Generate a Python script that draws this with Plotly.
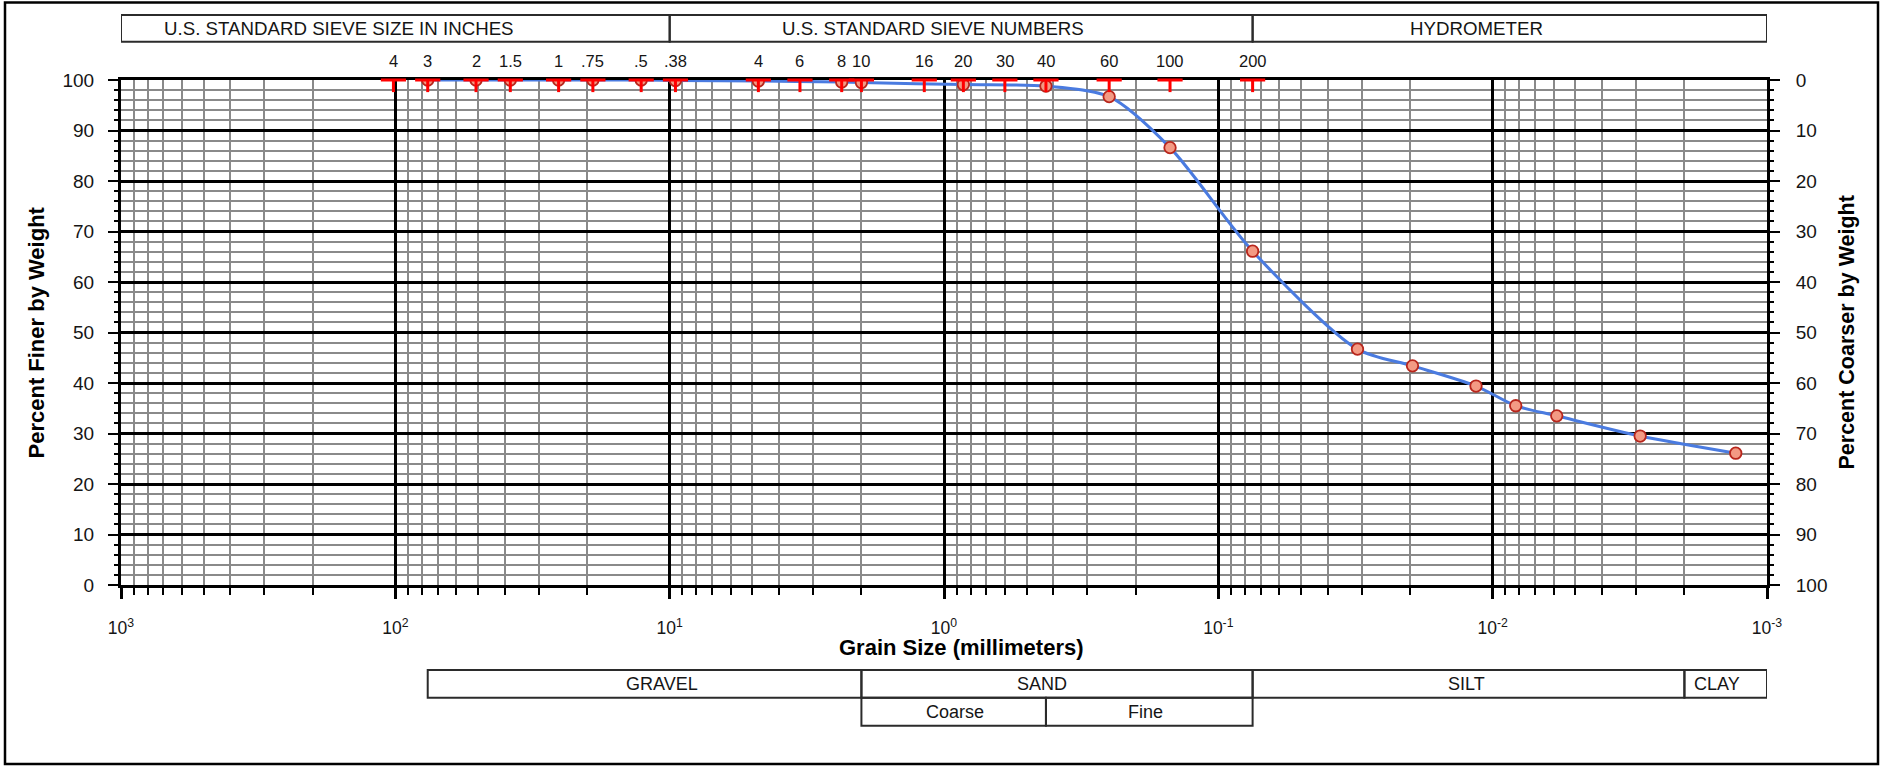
import math
import plotly.graph_objects as go

# ---------------------------------------------------------------- data
# Standard sieve openings (mm) with the labels printed above the chart
sieve_labels = ["4", "3", "2", "1.5", "1", ".75", ".5", ".38",
                "4", "6", "8", "10", "16", "20", "30", "40", "60", "100", "200"]
sieve_sizes_mm = [101.6, 76.2, 50.8, 38.1, 25.4, 19.05, 12.7, 9.525,
                  4.75, 3.35, 2.36, 2.00, 1.18, 0.85, 0.60, 0.425, 0.25, 0.15, 0.075]

# Gradation results: sieve analysis followed by hydrometer readings
grain_size_mm = [76.2, 50.8, 38.1, 25.4, 19.05, 12.7, 9.525, 4.75, 2.36, 2.00,
                 0.85, 0.425, 0.25, 0.15, 0.075,
                 0.0311, 0.0196, 0.0115, 0.00824, 0.00584, 0.00290, 0.00130]
percent_finer = [100, 100, 100, 100, 100, 100, 99.9, 99.8, 99.6, 99.5,
                 99.1, 98.8, 96.7, 86.6, 66.1,
                 46.7, 43.4, 39.4, 35.5, 33.5, 29.5, 26.1]

# Axis ticks
x_major_vals = [1000, 100, 10, 1, 0.1, 0.01, 0.001]
x_major_text = ["10<sup>3</sup>", "10<sup>2</sup>", "10<sup>1</sup>", "10<sup>0</sup>",
                "10<sup>-1</sup>", "10<sup>-2</sup>", "10<sup>-3</sup>"]
x_minor_vals = [m * 10.0 ** e for e in range(-3, 3) for m in range(2, 10)]
y_tick_vals = list(range(0, 101, 10))

# Classification bands: (label, coarse limit mm, fine limit mm)
header_cells = [("U.S. STANDARD SIEVE SIZE IN INCHES", 1000, 10),
                ("U.S. STANDARD SIEVE NUMBERS", 10, 0.075),
                ("HYDROMETER", 0.075, 0.001)]
soil_cells = [("GRAVEL", 76.2, 2.0), ("SAND", 2.0, 0.075),
              ("SILT", 0.075, 0.002), ("CLAY", 0.002, 0.001)]
sand_cells = [("Coarse", 2.0, 0.425), ("Fine", 0.425, 0.075)]

# ---------------------------------------------------------------- layout geometry
W, H = 1883, 766
ML, MR, MT, MB = 121, 116, 80, 181
PW, PH = W - ML - MR, H - MT - MB


def px_x(px):
    return (px - ML) / PW


def px_y(py):
    return (H - MB - py) / PH


FONT = "Liberation Sans, Arial, sans-serif"
TXT = "#151515"
BOX = "#2b2b2b"

# label anchors (mm) inside the band cells
header_text_mm = [160.0, 1.10, 0.0115]
soil_text_mm = [10.7, 0.44, 0.01245, 0.00152]
sand_text_mm = [0.915, 0.185]

fig = go.Figure()

# grading curve with test points
fig.add_trace(go.Scatter(
    x=grain_size_mm, y=percent_finer, mode="lines+markers",
    line=dict(color="#4a7be0", width=3, shape="spline", smoothing=0.8),
    marker=dict(symbol="circle", size=11.5, color="#f39a84",
                line=dict(color="#b8261c", width=1.8)),
    cliponaxis=True, hoverinfo="x+y"))

# sieve marks along the top edge
fig.add_trace(go.Scatter(
    x=sieve_sizes_mm, y=[100] * len(sieve_sizes_mm), mode="markers",
    marker=dict(symbol="line-ew", size=18, color="red",
                line=dict(color="red", width=3)),
    error_y=dict(type="data", symmetric=False, array=[0] * len(sieve_sizes_mm),
                 arrayminus=[2.4] * len(sieve_sizes_mm), width=0,
                 thickness=3, color="red"),
    cliponaxis=False, hoverinfo="skip"))

# same curve expressed as percent coarser, carried by the right axis
fig.add_trace(go.Scatter(
    x=grain_size_mm, y=[100 - v for v in percent_finer], yaxis="y2",
    mode="markers", marker=dict(opacity=0), hoverinfo="skip"))

shapes = []
annotations = []

# sieve labels above the plot
for lab, size in zip(sieve_labels, sieve_sizes_mm):
    annotations.append(dict(x=math.log10(size), y=px_y(61), xref="x", yref="paper",
                            text=lab, showarrow=False, xanchor="center", yanchor="middle",
                            font=dict(family=FONT, size=16.5, color=TXT)))


def band_row(cells, text_mm, top_px, bot_px, fsize):
    for (lab, a, b), t in zip(cells, text_mm):
        shapes.append(dict(type="rect", xref="x", yref="paper", x0=a, x1=b,
                           y0=px_y(bot_px), y1=px_y(top_px),
                           line=dict(color=BOX, width=2), fillcolor="rgba(0,0,0,0)"))
        annotations.append(dict(x=math.log10(t), y=px_y((top_px + bot_px) / 2),
                                xref="x", yref="paper", text=lab, showarrow=False,
                                xanchor="center", yanchor="middle",
                                font=dict(family=FONT, size=fsize, color=TXT)))


band_row(header_cells, header_text_mm, 15, 41.7, 18.7)
band_row(soil_cells, soil_text_mm, 670, 697.7, 18)
band_row(sand_cells, sand_text_mm, 697.7, 725.7, 18)

# outer frame of the sheet
shapes.append(dict(type="rect", xref="paper", yref="paper",
                   x0=px_x(5), x1=px_x(1878), y0=px_y(764), y1=px_y(2.5),
                   line=dict(color="black", width=2.5), fillcolor="rgba(0,0,0,0)"))

# axis titles
annotations += [
    dict(x=px_x(961), y=px_y(647), xref="paper", yref="paper",
         xanchor="center", yanchor="middle",
         text="<b>Grain Size (millimeters)</b>", showarrow=False,
         font=dict(family=FONT, size=22, color="black")),
    dict(x=px_x(36), y=0.5, xref="paper", yref="paper", textangle=-90,
         xanchor="center", yanchor="middle",
         text="<b>Percent Finer by Weight</b>", showarrow=False,
         font=dict(family=FONT, size=22, color="black")),
    dict(x=px_x(1846), y=0.5, xref="paper", yref="paper", textangle=-90,
         xanchor="center", yanchor="middle",
         text="<b>Percent Coarser by Weight</b>", showarrow=False,
         font=dict(family=FONT, size=21.5, color="black")),
]

GRID_MINOR = "#8a8a8a"

fig.update_layout(
    width=W, height=H, margin=dict(l=ML, r=MR, t=MT, b=MB),
    paper_bgcolor="white", plot_bgcolor="white", showlegend=False,
    font=dict(family=FONT, color=TXT),
    shapes=shapes, annotations=annotations,
    xaxis=dict(
        type="log", range=[3, -3], tickmode="array",
        tickvals=x_major_vals, ticktext=x_major_text,
        tickfont=dict(size=17.5, color=TXT),
        showgrid=True, gridcolor="black", gridwidth=3,
        showline=True, linecolor="black", linewidth=3, mirror=True,
        ticks="outside", ticklen=11, tickwidth=3, tickcolor="black",
        ticklabelstandoff=14,
        minor=dict(tickmode="array", tickvals=x_minor_vals, ticks="outside",
                   ticklen=7, tickwidth=2, tickcolor="black",
                   showgrid=True, gridcolor=GRID_MINOR, gridwidth=1.7),
        zeroline=False, layer="below traces"),
    yaxis=dict(
        range=[0, 100], tickmode="array", tickvals=y_tick_vals,
        tickfont=dict(size=19, color=TXT),
        showgrid=True, gridcolor="black", gridwidth=3,
        showline=True, linecolor="black", linewidth=3,
        ticks="outside", ticklen=10, tickwidth=2, tickcolor="black",
        ticklabelstandoff=10,
        minor=dict(dtick=2, tick0=0, ticks="outside", ticklen=4, tickwidth=2,
                   tickcolor="black", showgrid=True, gridcolor=GRID_MINOR,
                   gridwidth=1.7),
        zeroline=False, layer="below traces"),
    yaxis2=dict(
        overlaying="y", side="right", range=[100, 0], tickmode="array",
        tickvals=y_tick_vals, tickfont=dict(size=19, color=TXT),
        showgrid=False, showline=True, linecolor="black", linewidth=3,
        ticks="outside", ticklen=10, tickwidth=2, tickcolor="black",
        ticklabelstandoff=12,
        minor=dict(dtick=2, tick0=0, ticks="outside", ticklen=4, tickwidth=2,
                   tickcolor="black", showgrid=False),
        zeroline=False, layer="below traces"),
)

fig.write_html("out.html")
